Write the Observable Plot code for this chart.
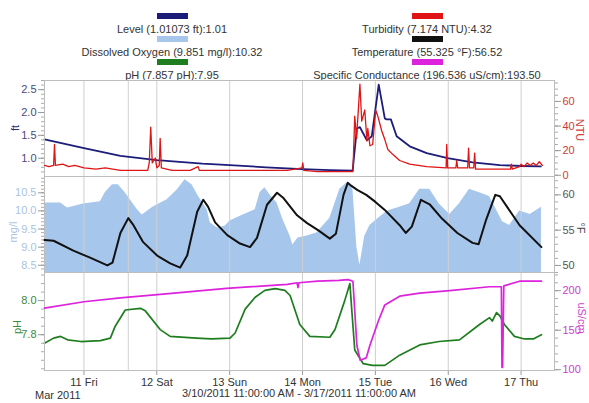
<!DOCTYPE html>
<html><head><meta charset="utf-8">
<script src="https://cdn.jsdelivr.net/npm/d3@7"></script>
<script src="https://cdn.jsdelivr.net/npm/@observablehq/plot@0.6"></script>
<style>
body{margin:0;background:#fff;font-family:"Liberation Sans",Arial,sans-serif;}
#wrap{position:relative;width:589px;height:403px;overflow:hidden;}
.leg{position:absolute;width:260px;text-align:center;font-size:11px;color:#333;line-height:12px;}
.sw{position:absolute;width:31px;height:6px;}
.pl{position:absolute;left:0;}
.ttl{position:absolute;font-size:11px;white-space:nowrap;transform-origin:center center;}
</style></head><body><div id="wrap"></div>
<script>
// ---------------- data (hours after 3/10/2011 11:00 AM) ----------------
const levelHours = [0, 13, 25, 37, 52, 61, 73, 85, 94, 101.5, 102.9, 103.9, 104.6, 106.2, 107.8, 110.1, 112.1, 112.7, 114.1, 116, 120.3, 125.9, 132.8, 141, 150, 157, 163.5];
const levelFt    = [1.41, 1.22, 1.05, 0.96, 0.88, 0.85, 0.80, 0.76, 0.74, 0.73, 1.65, 1.68, 1.59, 1.39, 1.48, 2.61, 1.87, 1.85, 1.85, 1.48, 1.26, 1.11, 1.00, 0.91, 0.85, 0.83, 0.82];

const turbHours = [0, 1.5, 3, 3.3, 3.6, 6, 8, 10, 13, 17, 20, 25, 30, 34, 34.5, 35, 35.5, 36, 36.5, 37, 37.8, 38.1, 38.5, 42, 48, 50.6, 51, 60, 70, 80, 84.8, 85.1, 85.4, 90, 101.6, 102.2, 102.8, 103.9, 104.5, 105.5, 106.2, 106.5, 107.2, 108.1, 109.1, 109.8, 111.1, 112.1, 113.1, 114.7, 117, 120.3, 125.9, 132.3, 132.5, 132.8, 135.5, 135.8, 136.1, 139.4, 139.7, 140, 141.4, 141.7, 142, 146, 150, 153.5, 153.8, 154.1, 156.5, 157, 158, 159, 160, 161, 162, 163, 164];
const turbNTU   = [8, 7, 8, 25, 8, 9, 7, 8, 6, 5, 6, 4, 4, 4, 10, 39, 10, 12, 14, 6, 8, 30, 6, 4, 4, 7, 4, 4, 4, 4, 6, 10, 4, 3, 3, 48, 30, 74, 44, 53, 28, 38, 24, 25, 53, 48, 36, 29, 21, 17, 12, 9, 7, 6, 25, 6, 6, 12, 6, 6, 22, 6, 6, 18, 5, 5, 5, 5, 9, 5, 7, 9, 7, 10, 8, 10, 8, 11, 8];

const doHours = [0, 5.3, 7.6, 12.8, 18.4, 20, 22.4, 24.3, 26.6, 30.6, 32.2, 35.8, 40.4, 43.7, 46.3, 48.6, 50.6, 53.6, 54.6, 56.9, 59.5, 61.1, 65.4, 69.4, 71, 72.6, 74.3, 76.6, 78.6, 80.9, 81.8, 83.5, 86.5, 89.7, 94, 97.3, 99.9, 101.6, 102.9, 103.9, 105.5, 107.2, 110, 113, 117, 120.3, 123.6, 126.9, 130, 133.5, 136.7, 140, 143.3, 146.6, 150.9, 153.2, 156.5, 160, 163.7];
const doMgl   = [10.22, 10.22, 10.08, 10.19, 10.25, 10.5, 10.72, 10.72, 10.5, 10.03, 9.89, 10.11, 10.31, 10.58, 10.86, 10.72, 10.42, 10.03, 9.67, 9.53, 9.58, 9.72, 9.89, 10.03, 10.5, 10.64, 10.44, 10.22, 9.75, 9.31, 9.06, 9.25, 9.31, 9.39, 9.8, 10.6, 10.8, 10.6, 9.0, 8.5, 9.3, 9.6, 9.8, 10.0, 10.1, 10.2, 10.6, 10.6, 10.2, 9.9, 10.2, 10.6, 10.5, 10.4, 9.7, 9.6, 10.0, 9.9, 10.1];

const tempHours = [0, 3, 9.5, 15, 20.7, 22.4, 25, 27.6, 29.3, 32.5, 37.1, 41.4, 44.7, 47, 50.3, 52.3, 53.9, 56.2, 60.2, 64.4, 67.7, 70, 73.3, 76.6, 78.6, 83.2, 86.5, 90.1, 94, 96, 98.5, 99.9, 101, 103, 106, 109, 112, 117, 119, 121, 124, 127, 131, 136, 141, 143, 145.5, 148.5, 150, 156.5, 163.7];
const tempF     = [53.6, 53.5, 52.1, 51.1, 50.0, 50.4, 54.6, 56.7, 55.7, 53.3, 51.4, 50.3, 49.7, 51.4, 57.6, 59.3, 58.3, 56.1, 54.3, 53.1, 52.6, 53.9, 58.6, 60.3, 59.6, 57.1, 56.0, 55.0, 53.8, 54.5, 60.0, 61.7, 61.3, 60.7, 60.0, 59.0, 57.9, 55.7, 54.6, 55.5, 59.3, 58.6, 56.6, 54.6, 53.2, 53.0, 56.5, 60.0, 59.8, 55.7, 52.6];

const phHours = [0, 3, 5.3, 7.6, 12, 18.4, 21.7, 23.3, 26.6, 31.6, 33.2, 38.1, 41.4, 50, 55, 61.1, 62.8, 66.1, 69.4, 72.6, 76, 79.2, 80.9, 84.1, 87.4, 94, 95.7, 98.9, 100.6, 101.2, 102.2, 105, 108, 112.1, 117, 123.6, 130, 136.7, 143.3, 146.6, 147.5, 148.9, 150, 151.5, 154.8, 158.1, 161, 163.7];
const phVal   = [7.75, 7.78, 7.79, 7.77, 7.76, 7.765, 7.78, 7.85, 7.945, 7.955, 7.94, 7.83, 7.79, 7.78, 7.775, 7.78, 7.81, 7.95, 8.02, 8.06, 8.07, 8.06, 8.03, 7.86, 7.79, 7.785, 7.83, 8.0, 8.1, 7.95, 7.71, 7.63, 7.62, 7.62, 7.68, 7.74, 7.76, 7.77, 7.86, 7.90, 7.88, 7.93, 7.91, 7.86, 7.79, 7.775, 7.775, 7.80];

const condHours = [0, 13, 25, 40, 60, 80, 83.2, 83.5, 83.8, 90, 97, 100, 101.6, 102.9, 104, 106, 107.2, 110, 112.1, 117, 123.6, 133.5, 146.6, 150.5, 150.7, 150.9, 151.3, 156.5, 163.7];
const condVal   = [178, 186, 191, 196, 203, 208, 210, 204, 210, 212, 213, 214, 212, 131, 112, 115, 131, 162, 182, 193, 197, 200, 205, 205, 103, 103, 206, 212, 212];

const eventHours = [27.6];

const axisFt   = [1.0, 1.5, 2.0, 2.5];
const axisNTU  = [0, 20, 40, 60];
const axisMgl  = [8.5, 9.0, 9.5, 10.0, 10.5];
const axisF    = [50, 55, 60];
const axisPH   = [7.8, 8.0];
const axisCond = [100, 150, 200];

// ---------------- helpers ----------------
const start = new Date(2011, 2, 10, 11);
const end = new Date(2011, 2, 17, 11);
const toDate = h => new Date(+start + h * 3600e3);
const rows = (hs, vs) => hs.map((h, i) => ({t: toDate(h), v: vs[i]}));
const days = d3.timeDay.range(d3.timeDay.ceil(start), end);
const events = eventHours.map(toDate);
const W = 589, ML = 44, MR = 35;
const wrap = document.getElementById("wrap");
const font = "'Liberation Sans', Arial, sans-serif";

function place(svg, top) {
  svg.classList.add("pl");
  svg.style.top = top + "px";
  wrap.appendChild(svg);
}
function yAxes(anchor, major, fmt, minor, labelColor) {
  return [
    Plot.axisY({anchor, ticks: minor, tickFormat: () => "", tickSize: 3, stroke: "#aaa", label: null}),
    Plot.axisY({anchor, ticks: major, tickFormat: fmt, tickSize: 6, tickPadding: 2, stroke: "#999", fill: labelColor, fontSize: 11, label: null})
  ];
}
function grid() {
  return [
    Plot.ruleX(days, {stroke: "#cfcfcf"}),
    Plot.ruleX(events, {stroke: "#cfcfcf"})
  ];
}
function mk(height, yDomain, marks, extra = {}) {
  return Plot.plot({
    width: W, height, marginLeft: ML, marginRight: MR, marginTop: 0, marginBottom: extra.mb || 0,
    x: {type: "time", domain: [start, end], axis: null},
    y: {domain: yDomain, axis: null},
    style: {background: "none", overflow: "visible", fontFamily: font, fontSize: "11px"},
    marks
  });
}

// ---------------- legend ----------------
const legend = [
  ["Level (1.01073 ft):1.01", "#1c1c7a", 172, 12],
  ["Dissolved Oxygen (9.851 mg/l):10.32", "#a6c6ec", 172, 35],
  ["pH (7.857 pH):7.95", "#1e7d1e", 172, 58],
  ["Turbidity (7.174 NTU):4.32", "#e01414", 427, 12],
  ["Temperature (55.325 \u00b0F):56.52", "#111111", 427, 35],
  ["Specific Conductance (196.536 uS/cm):193.50", "#dd22dd", 427, 58]
];
for (const [txt, col, cx, y] of legend) {
  const s = document.createElement("div");
  s.className = "sw"; s.style.background = col; s.style.left = (cx - 15) + "px"; s.style.top = (y + 1) + "px";
  wrap.appendChild(s);
  const d = document.createElement("div");
  d.className = "leg"; d.textContent = txt; d.style.left = (cx - 130) + "px"; d.style.top = (y + 11) + "px";
  wrap.appendChild(d);
}

// ---------------- panel 1: level / turbidity ----------------
place(mk(96, [0.6, 2.7], [
  ...grid(),
  ...yAxes("left", axisFt, d3.format(".1f"), d3.range(0.7, 2.71, 0.1), "#4a4a7c"),
  Plot.line(rows(levelHours, levelFt), {x: "t", y: "v", stroke: "#1c1c7a", strokeWidth: 1.8}),
  Plot.frame({stroke: "#bdbdbd"})
]), 80);
place(mk(96, [-1, 77], [
  ...yAxes("right", axisNTU, d3.format("d"), d3.range(0, 76, 5), "#d03a3a"),
  Plot.line(rows(turbHours, turbNTU), {x: "t", y: "v", stroke: "#e01414", strokeWidth: 1.3})
]), 80);

// ---------------- panel 2: DO / temperature ----------------
place(mk(96, [8.3, 10.95], [
  Plot.areaY(rows(doHours, doMgl), {x: "t", y: "v", fill: "#a6c6ec", clip: true}),
  ...grid(),
  ...yAxes("left", axisMgl, d3.format(".1f"), d3.range(8.4, 10.91, 0.1), "#aac3e0"),
  Plot.frame({stroke: "#bdbdbd"})
]), 176);
place(mk(96, [49, 62.6], [
  ...yAxes("right", axisF, d3.format("d"), d3.range(49, 62.1, 1), "#555"),
  Plot.line(rows(tempHours, tempF), {x: "t", y: "v", stroke: "#111", strokeWidth: 2})
]), 176);

// ---------------- panel 3: pH / conductance ----------------
place(mk(131, [7.59, 8.165], [
  ...grid(),
  ...yAxes("left", axisPH, d3.format(".1f"), d3.range(7.6, 8.16, 0.05), "#3a8a3a"),
  Plot.axisX({ticks: days, tickFormat: d3.timeFormat("%-d %a"), tickSize: 5, tickPadding: 3, stroke: "#999", fill: "#333", fontSize: 11, label: null}),
  Plot.line(rows(phHours, phVal), {x: "t", y: "v", stroke: "#1e7d1e", strokeWidth: 1.7}),
  Plot.frame({stroke: "#bdbdbd"})
], {mb: 33}), 272);
place(mk(131, [99, 223], [
  ...yAxes("right", axisCond, d3.format("d"), d3.range(100, 221, 10), "#d040d0"),
  Plot.line(rows(condHours, condVal), {x: "t", y: "v", stroke: "#dd22dd", strokeWidth: 1.7})
], {mb: 33}), 272);

// ---------------- axis titles & captions ----------------
const titles = [
  ["ft", 15, 128, -90, "#2a2a7a"],
  ["NTU", 580, 130, 90, "#d03a3a"],
  ["mg/l", 13, 232, -90, "#aac3e0"],
  ["\u00b0F", 580, 228, 90, "#444"],
  ["pH", 17, 327, -90, "#3a8a3a"],
  ["uS/cm", 581, 318, 90, "#d040d0"]
];
for (const [txt, x, y, r, col] of titles) {
  const d = document.createElement("div");
  d.className = "ttl"; d.textContent = txt; d.style.color = col;
  wrap.appendChild(d);
  const w = d.offsetWidth, h = d.offsetHeight;
  d.style.left = (x - w / 2) + "px"; d.style.top = (y - h / 2) + "px";
  d.style.transform = `rotate(${r}deg)`;
}
const cap = document.createElement("div");
cap.textContent = "3/10/2011 11:00:00 AM - 3/17/2011 11:00:00 AM";
cap.style.cssText = "position:absolute;left:0;width:" + (2 * 299) + "px;text-align:center;top:387px;font-size:11px;color:#333;";
wrap.appendChild(cap);
const mar = document.createElement("div");
mar.textContent = "Mar 2011";
mar.style.cssText = "position:absolute;left:35px;top:389px;font-size:11px;color:#333;";
wrap.appendChild(mar);
</script></body></html>
